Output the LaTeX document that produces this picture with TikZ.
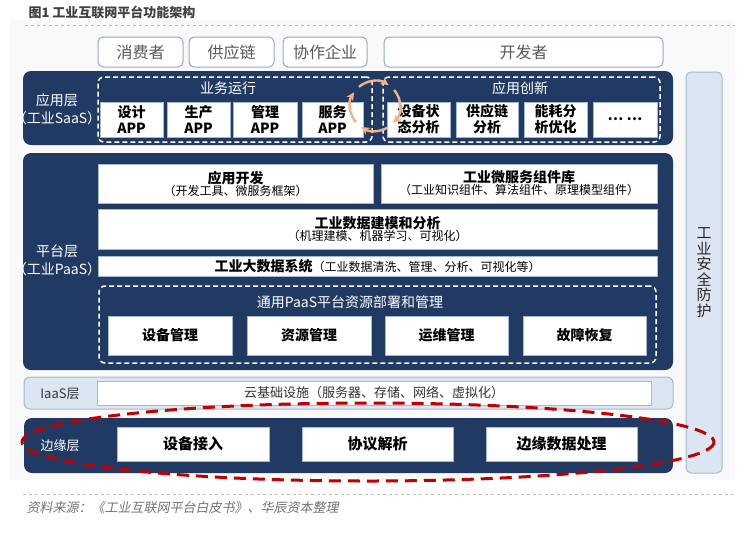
\documentclass[tikz,border=0pt]{standalone}
\usepackage{fontspec}
\setmainfont{Noto Sans CJK SC}[AutoFakeSlant=0.2]
\usetikzlibrary{arrows.meta}
\definecolor{layerblue}{HTML}{213A63}
\definecolor{paleblue}{HTML}{DCE6F2}
\definecolor{paleline}{HTML}{A3B9D4}
\definecolor{userline}{HTML}{8FAACB}
\definecolor{usertext}{HTML}{595959}
\definecolor{loopcolor}{HTML}{F4B183}
\definecolor{edgered}{HTML}{C00000}
\tikzset{
  layer/.style={fill=layerblue, rounded corners=8pt, inner sep=0pt},
  userbox/.style={draw=userline, line width=1pt, fill=white, rounded corners=5pt, inner sep=0pt,
    minimum height=30pt, text=usertext, font=\fontsize{16}{18}\selectfont},
  whitebox/.style={draw=paleline, line width=0.8pt, fill=white, inner sep=0pt, align=center},
  groupbox/.style={draw=white, dash pattern=on 5pt off 3pt, line width=1.5pt, rounded corners=6pt, inner sep=0pt},
  applabel/.style={text=white, align=center, font=\fontsize{14}{18}\selectfont},
  boldtext/.style={font=\fontsize{14}{16}\bfseries\selectfont},
  looparrow/.style={loopcolor, line width=2.4pt, -{Stealth[length=8pt,width=8pt]}},
}
\begin{document}
\begin{tikzpicture}[x=1pt,y=-1pt]
\useasboundingbox (0,0) rectangle (754,558);
\fill[gray!5] (10,20) rectangle (735,480);
\draw[gray!55, dashed] (25,25) -- (735,25);
\node[anchor=west, text=black!75, font=\fontsize{13}{15}\bfseries\selectfont] (title) at (25,12) {图1 工业互联网平台功能架构};

% users
\node[userbox, minimum width=85pt] (consumer) at (140.5,52) {消费者};
\node[userbox, minimum width=85pt] (supply) at (231.5,52) {供应链};
\node[userbox, minimum width=84pt] (partner) at (325,52) {协作企业};
\node[userbox, minimum width=279pt] (developer) at (523.5,52) {开发者};

% security
\node[draw=paleline, fill=paleblue, rounded corners=5pt, line width=1pt, minimum width=36pt, minimum height=401pt,
  inner sep=0pt, align=center, text=black!85, font=\fontsize{15}{15.5}\selectfont] (security) at (704,272.5)
  {工\\业\\安\\全\\防\\护};

% SaaS
\node[layer, minimum width=650pt, minimum height=74pt] (saas) at (348,108) {};
\node[applabel] (saaslabel) at (57,109) {应用层\\（工业SaaS）};
\node[groupbox, minimum width=274pt, minimum height=65pt] (business) at (235,109.5) {};
\node[applabel] (businesstitle) at (228,88) {业务运行};
\node[groupbox, minimum width=277pt, minimum height=65pt] (innovation) at (521.5,109.5) {};
\node[applabel] (innovationtitle) at (520,88) {应用创新};
\begin{scope}[every node/.style={whitebox, minimum height=35pt, font=\fontsize{14}{16}\bfseries\selectfont}]
  \node[minimum width=63pt] (design) at (131.5,119.5) {设计\\APP};
  \node[minimum width=63pt] (produce) at (198.5,119.5) {生产\\APP};
  \node[minimum width=64pt] (manage) at (265,119.5) {管理\\APP};
  \node[minimum width=61pt] (service) at (332.5,119.5) {服务\\APP};
  \node[minimum width=63pt] (status) at (418.5,119.5) {设备状\\态分析};
  \node[minimum width=62pt] (chain) at (487,119.5) {供应链\\分析};
  \node[minimum width=63pt] (energy) at (555.5,119.5) {能耗分\\析优化};
  \node[minimum width=64pt] (more) at (625,119.5) {… …};
\end{scope}
% loop between the two groups
\coordinate (loopc) at (375,106);
\draw[looparrow] ([shift={(140:25)}]loopc) arc[start angle=140, end angle=213, radius=25];
\draw[looparrow] ([shift={(-130:25)}]loopc) arc[start angle=-130, end angle=-57, radius=25];
\draw[looparrow] ([shift={(-40:25)}]loopc) arc[start angle=-40, end angle=43, radius=25];
\draw[looparrow] ([shift={(60:25)}]loopc) arc[start angle=60, end angle=123, radius=25];

% PaaS
\node[layer, minimum width=650pt, minimum height=217pt] (paas) at (348,261.5) {};
\node[applabel] (paaslabel) at (57,260.5) {平台层\\（工业PaaS）};
\node[whitebox, minimum width=275pt, minimum height=39pt] (appdev) at (235.5,183.5)
  {{\fontsize{14}{17}\bfseries\selectfont 应用开发}\\{\fontsize{12}{14}\selectfont（开发工具、微服务框架）}};
\node[whitebox, minimum width=276pt, minimum height=39pt] (microsvc) at (519,183.5)
  {{\fontsize{14}{17}\bfseries\selectfont 工业微服务组件库}\\{\fontsize{12}{14}\selectfont（工业知识组件、算法组件、原理模型组件）}};
\node[whitebox, minimum width=559pt, minimum height=40pt] (modeling) at (377.5,229)
  {{\fontsize{14}{17}\bfseries\selectfont 工业数据建模和分析}\\{\fontsize{12}{14}\selectfont（机理建模、机器学习、可视化）}};
\node[whitebox, minimum width=559pt, minimum height=20pt] (bigdata) at (377.5,266)
  {{\fontsize{14}{16}\bfseries\selectfont 工业大数据系统}{\fontsize{12}{14}\selectfont（工业数据清洗、管理、分析、可视化等）}};
\node[groupbox, minimum width=557pt, minimum height=77pt] (resource) at (377.5,324.5) {};
\node[applabel] (resourcetitle) at (350,302) {通用PaaS平台资源部署和管理};
\begin{scope}[every node/.style={whitebox, minimum height=39pt, boldtext}]
  \node[minimum width=124pt] (devmgmt) at (170,335.5) {设备管理};
  \node[minimum width=124pt] (resmgmt) at (309,335.5) {资源管理};
  \node[minimum width=123pt] (opsmgmt) at (446.5,335.5) {运维管理};
  \node[minimum width=123pt] (recovery) at (584.5,335.5) {故障恢复};
\end{scope}

% IaaS
\node[draw=paleline, fill=paleblue, line width=1pt, rounded corners=6pt, minimum width=649pt, minimum height=32pt, inner sep=0pt] (iaas) at (348.5,393) {};
\node[text=black!80, font=\fontsize{13}{15}\selectfont] (iaaslabel) at (60,394) {IaaS层};
\node[whitebox, minimum width=554pt, minimum height=24pt, text=black!80, font=\fontsize{13}{15}\selectfont] (cloud) at (374,393)
  {云基础设施（服务器、存储、网络、虚拟化）};

% edge
\node[layer, minimum width=649pt, minimum height=55pt] (edge) at (348.5,445.5) {};
\node[text=white, font=\fontsize{13}{15}\selectfont] (edgelabel) at (60,446) {边缘层};
\begin{scope}[every node/.style={whitebox, minimum height=34pt, font=\fontsize{15}{17}\bfseries\selectfont}]
  \node[minimum width=152pt] (access) at (193,444) {设备接入};
  \node[minimum width=151pt] (protocol) at (377.5,444) {协议解析};
  \node[minimum width=151pt] (edgedata) at (561.5,444) {边缘数据处理};
\end{scope}
\draw[edgered, line width=3pt, dash pattern=on 12pt off 7pt] (368,442) ellipse[x radius=346, y radius=39];

% source
\draw[gray!55, dashed] (23,494) -- (735,494);
\node[anchor=west, text=black!55, font=\fontsize{13}{15}\itshape\selectfont] (source) at (23,508)
  {资料来源：《工业互联网平台白皮书》、华辰资本整理};
\end{tikzpicture}
\end{document}
